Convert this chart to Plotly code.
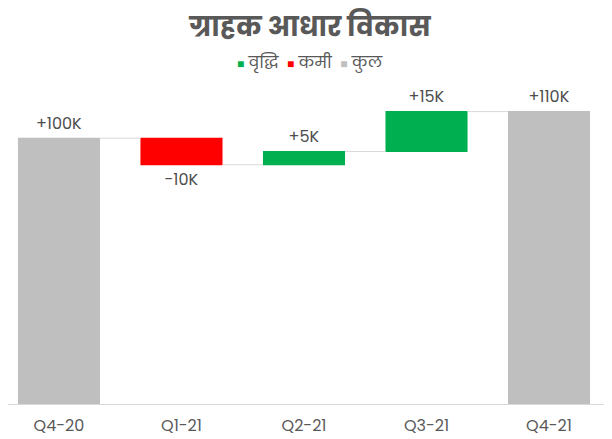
import plotly.graph_objects as go

# data
quarters = ['Q4-20', 'Q1-21', 'Q2-21', 'Q3-21', 'Q4-21']
changes = [100, -10, 5, 15, 0]
measures = ['absolute', 'relative', 'relative', 'relative', 'total']
totals_shown = [100, None, None, None, 110]
legend_names = ['वृद्धि', 'कमी', 'कुल']
legend_colors = ['#00b050', '#ff0000', '#bfbfbf']

labels = []
for v, t in zip(changes, totals_shown):
    val = t if t is not None else v
    labels.append('{:+d}K'.format(val))

font_family = 'Poppins, Noto Sans, Noto Sans Devanagari, sans-serif'

trace = go.Waterfall(
    x=quarters,
    y=changes,
    measure=measures,
    text=labels,
    textposition='outside',
    textfont=dict(size=16, color='#4d4d4d'),
    increasing=dict(marker=dict(color='#00b050')),
    decreasing=dict(marker=dict(color='#ff0000')),
    totals=dict(marker=dict(color='#bfbfbf')),
    connector=dict(line=dict(color='#d9d9d9', width=1)),
    showlegend=False,
    cliponaxis=False,
)

# compact legend line built as one text: small coloured square + name
legend_parts = []
for name, color in zip(legend_names, legend_colors):
    legend_parts.append('<span style="color:%s;font-size:12px">■</span> %s' % (color, name))
legend_text = '&nbsp;&nbsp;'.join(legend_parts)

layout = go.Layout(
    title=dict(text='<b>ग्राहक आधार विकास</b>', x=0.5, y=0.958, xanchor='center', yanchor='middle',
               font=dict(size=27, color='#595959', family=font_family)),
    showlegend=False,
    annotations=[dict(text=legend_text, x=0.5, y=1.072, xref='paper', yref='paper',
                      xanchor='center', yanchor='middle', showarrow=False,
                      font=dict(size=16, color='#595959', family=font_family))],
    font=dict(family=font_family, color='#595959'),
    xaxis=dict(showline=True, linecolor='#d9d9d9', linewidth=1, ticks='',
               range=[-0.416, 4.514], automargin=False, ticklabelstandoff=7,
               tickfont=dict(size=16, color='#595959'), showgrid=False),
    yaxis=dict(range=[0, 120], visible=False, showgrid=False, automargin=False),
    waterfallgap=0.33,
    plot_bgcolor='white',
    paper_bgcolor='white',
    margin=dict(l=0, r=0, t=77, b=35, autoexpand=False),
    width=604,
    height=431,
)

fig = go.Figure(data=[trace], layout=layout)
fig.write_html('out.html', config=dict(displayModeBar=False))
